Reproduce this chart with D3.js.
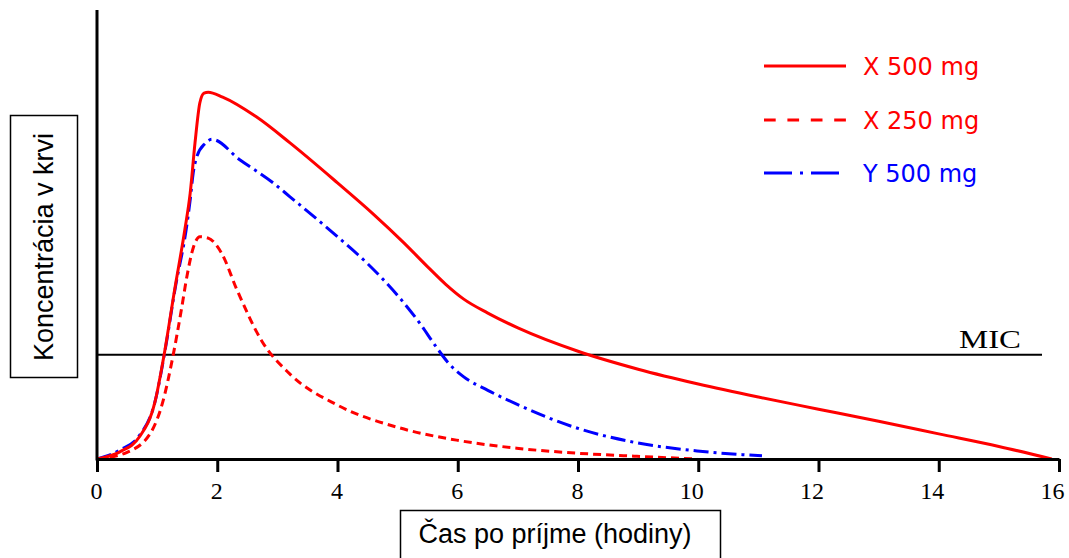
<!DOCTYPE html>
<html><head><meta charset="utf-8">
<script src="https://cdn.jsdelivr.net/npm/d3@7/dist/d3.min.js"></script>
<style>body{margin:0;background:#fff}svg{display:block}</style>
</head><body>
<svg id="chart" width="1069" height="558"></svg>
<script>
// Data (time in hours, concentration in arbitrary units 0-100)
const xTicks = [0, 2, 4, 6, 8, 10, 12, 14, 16];
const micValue = 23.2;
const seriesNames = ["X 500 mg", "X 250 mg", "Y 500 mg"];
const x500 = [[0,0],[0.38,1.6],[0.71,5.0],[0.96,12.5],[1.13,24.3],[1.29,37.6],[1.46,51.0],[1.55,59.2],[1.63,70.4],[1.71,79.3],[1.78,81.5],[1.85,81.7],[2.09,80.6],[2.65,76.2],[3.21,70.4],[4.0,61.5],[4.6,54.5],[5.1,48.2],[5.5,42.8],[5.8,38.9],[6.1,35.6],[6.5,32.5],[7.0,29.2],[8.0,24.0],[9.0,20.0],[10.0,16.7],[11.0,13.8],[12.0,11.1],[13.0,8.4],[14.0,5.6],[15.0,2.8],[15.88,0]];
const x250 = [[0,0],[0.5,1.5],[0.9,6],[1.1,13],[1.25,22],[1.4,33],[1.5,41],[1.6,47],[1.71,49.5],[1.85,49.2],[2.07,45.9],[2.33,37.6],[2.74,26.3],[3.21,18.9],[4.0,12.0],[5.04,6.9],[5.98,4.2],[6.98,2.4],[7.98,1.3],[8.98,0.6],[9.98,0]];
const y500 = [[0,0],[0.38,2],[0.71,5.3],[0.96,12.5],[1.13,24],[1.3,38],[1.49,51.7],[1.55,57.7],[1.6,63.7],[1.66,67.3],[1.8,70.3],[1.91,71.2],[2.38,66.6],[2.93,61.5],[3.21,58.4],[4.0,49.5],[4.5,43.5],[5.04,35.8],[5.37,30.2],[5.65,24.8],[5.85,21.3],[6.1,18.3],[6.5,15.3],[6.98,12.2],[7.98,6.9],[8.98,3.6],[9.98,1.8],[11.06,0.7]];

const svg = d3.select("#chart");
const x = d3.scaleLinear().domain([0,16]).range([97,1059]);
const y = d3.scaleLinear().domain([0,100]).range([459,10]);

const line = d3.line().x(d=>x(d[0])).y(d=>y(d[1])).curve(d3.curveMonotoneX);

// Y-axis label box
svg.append("rect").attr("x",10.5).attr("y",115.5).attr("width",67).attr("height",262)
  .attr("fill","none").attr("stroke","#000").attr("stroke-width",1.5);
svg.append("text").attr("transform","translate(53,247) rotate(-90)")
  .attr("text-anchor","middle").attr("font-family","Liberation Sans, Arial, sans-serif")
  .attr("font-size",27).attr("fill","#000").text("Koncentrácia v krvi");

// X-axis label box
svg.append("rect").attr("x",400.5).attr("y",510.5).attr("width",320).attr("height",60)
  .attr("fill","none").attr("stroke","#000").attr("stroke-width",1.5);
svg.append("text").attr("x",555).attr("y",543)
  .attr("text-anchor","middle").attr("font-family","Liberation Sans, Arial, sans-serif")
  .attr("font-size",27).attr("fill","#000").text("Čas po príjme (hodiny)");

// MIC line
svg.append("line").attr("x1",x(0)).attr("x2",1042).attr("y1",y(micValue)).attr("y2",y(micValue))
  .attr("stroke","#000").attr("stroke-width",2);
svg.append("text").attr("x",959).attr("y",348)
  .attr("font-family","Liberation Serif, Times New Roman, serif").attr("font-size",25)
  .attr("textLength",62).attr("lengthAdjust","spacingAndGlyphs")
  .attr("fill","#000").text("MIC");

// Curves
svg.append("path").datum(x250).attr("d",line).attr("fill","none")
  .attr("stroke","#ff0000").attr("stroke-width",3).attr("stroke-dasharray","8,5");
svg.append("path").datum(y500).attr("d",line).attr("fill","none")
  .attr("stroke","#0000ff").attr("stroke-width",3).attr("stroke-dasharray","15,5,3,5");
svg.append("path").datum(x500).attr("d",line).attr("fill","none")
  .attr("stroke","#ff0000").attr("stroke-width",3);

// X axis
const xAxis = d3.axisBottom(x).tickValues(xTicks).tickSize(13).tickSizeOuter(0).tickFormat(d3.format("d"));
const gx = svg.append("g").attr("transform","translate(0,459)").call(xAxis);
gx.select(".domain").attr("stroke","#000").attr("stroke-width",3);
gx.selectAll(".tick line").attr("stroke","#000").attr("stroke-width",3);
gx.selectAll(".tick text").attr("font-family","Liberation Serif, Times New Roman, serif")
  .attr("font-size",24).attr("fill","#000").attr("y",23).attr("dy","0.71em")
  .attr("text-anchor", d => d >= 10 ? "end" : "middle").attr("dx", d => d >= 10 ? 5 : -1);

// Y axis (no ticks)
svg.append("line").attr("x1",x(0)).attr("x2",x(0)).attr("y1",y(100)).attr("y2",y(0)+1.5)
  .attr("stroke","#000").attr("stroke-width",3);

// Legend
const legendStyles = [
  {color:"#ff0000", dash:null},
  {color:"#ff0000", dash:"11.7,11.7"},
  {color:"#0000ff", dash:"28,8,3,8"}
];
const legY = [66, 120, 173];
seriesNames.forEach((name,i)=>{
  svg.append("line").attr("x1",764).attr("x2",846).attr("y1",legY[i]).attr("y2",legY[i])
    .attr("stroke",legendStyles[i].color).attr("stroke-width",3)
    .attr("stroke-dasharray",legendStyles[i].dash);
  svg.append("text").attr("x",863).attr("y",legY[i]+8.5).attr("font-family","DejaVu Sans, Verdana, sans-serif")
    .attr("font-size",24).attr("fill",legendStyles[i].color).text(name);
});
</script>
</body></html>
